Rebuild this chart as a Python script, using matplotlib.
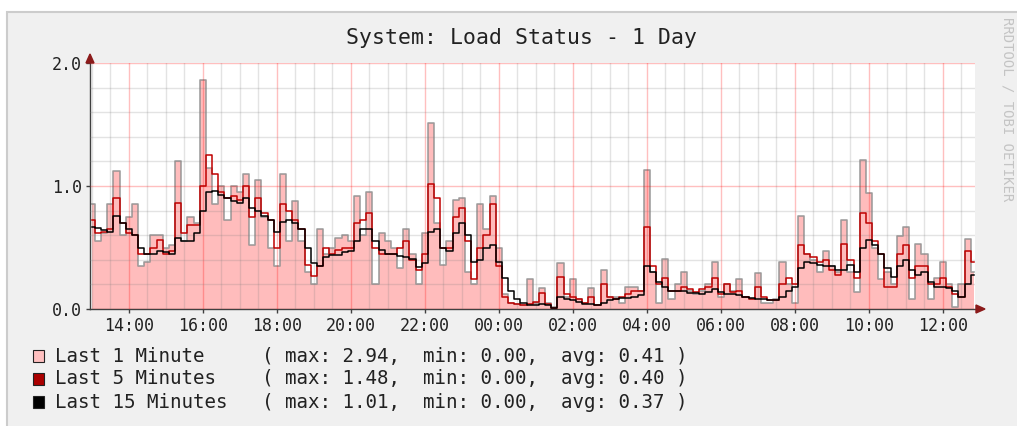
import numpy as np
import pandas as pd
import matplotlib
matplotlib.use("Agg")
import matplotlib.pyplot as plt
import matplotlib.dates as mdates
from matplotlib.patches import Rectangle, Polygon
from matplotlib.ticker import FixedLocator, MultipleLocator

# 10-minute samples, 13:00 .. 12:50 next day
times = pd.date_range("2024-01-01 13:00", periods=144, freq="10min")

load_1min = [
    0.85, 0.55, 0.62, 0.85, 1.12, 0.60, 0.75, 0.85, 0.35, 0.38, 0.60, 0.60,
    0.50, 0.52, 1.20, 0.55, 0.75, 0.70, 1.86, 1.15, 0.85, 1.00, 0.72, 1.00,
    0.95, 1.10, 0.52, 1.05, 0.75, 0.50, 0.35, 1.10, 0.55, 0.88, 0.55, 0.30,
    0.20, 0.65, 0.45, 0.50, 0.58, 0.60, 0.55, 0.92, 0.60, 0.95, 0.20, 0.62,
    0.55, 0.50, 0.33, 0.65, 0.45, 0.20, 0.62, 1.51, 0.70, 0.36, 0.55, 0.89,
    0.90, 0.30, 0.20, 0.85, 0.65, 0.92, 0.50, 0.12, 0.05, 0.04, 0.03, 0.24,
    0.05, 0.17, 0.05, 0.02, 0.37, 0.10, 0.24, 0.08, 0.05, 0.17, 0.03, 0.32,
    0.10, 0.10, 0.05, 0.18, 0.18, 0.15, 1.13, 0.30, 0.05, 0.41, 0.08, 0.20,
    0.30, 0.15, 0.12, 0.15, 0.20, 0.38, 0.10, 0.20, 0.15, 0.24, 0.10, 0.08,
    0.29, 0.05, 0.05, 0.08, 0.38, 0.20, 0.05, 0.76, 0.45, 0.40, 0.30, 0.47,
    0.35, 0.30, 0.72, 0.30, 0.14, 1.21, 0.94, 0.50, 0.24, 0.30, 0.20, 0.59,
    0.67, 0.08, 0.53, 0.45, 0.08, 0.25, 0.38, 0.20, 0.02, 0.20, 0.57, 0.30,
]
load_5min = [
    0.72, 0.62, 0.63, 0.65, 0.90, 0.70, 0.62, 0.60, 0.45, 0.45, 0.50, 0.56,
    0.45, 0.47, 0.86, 0.62, 0.68, 0.68, 1.00, 1.25, 1.10, 0.95, 0.90, 0.92,
    0.89, 1.00, 0.75, 0.90, 0.78, 0.72, 0.50, 0.85, 0.80, 0.72, 0.65, 0.36,
    0.27, 0.35, 0.50, 0.45, 0.48, 0.50, 0.50, 0.70, 0.72, 0.78, 0.50, 0.45,
    0.45, 0.45, 0.50, 0.55, 0.40, 0.32, 0.45, 1.02, 0.90, 0.50, 0.50, 0.75,
    0.82, 0.55, 0.24, 0.50, 0.60, 0.85, 0.35, 0.10, 0.05, 0.04, 0.03, 0.04,
    0.06, 0.13, 0.04, 0.01, 0.26, 0.12, 0.10, 0.08, 0.05, 0.10, 0.03, 0.20,
    0.10, 0.08, 0.10, 0.12, 0.15, 0.15, 0.67, 0.35, 0.20, 0.25, 0.15, 0.15,
    0.18, 0.16, 0.14, 0.16, 0.18, 0.25, 0.12, 0.20, 0.14, 0.15, 0.10, 0.08,
    0.18, 0.10, 0.07, 0.07, 0.20, 0.25, 0.20, 0.52, 0.45, 0.42, 0.38, 0.40,
    0.32, 0.28, 0.53, 0.40, 0.25, 0.78, 0.70, 0.55, 0.45, 0.18, 0.18, 0.45,
    0.52, 0.25, 0.35, 0.35, 0.20, 0.20, 0.25, 0.18, 0.12, 0.10, 0.47, 0.38,
]
load_15min = [
    0.67, 0.66, 0.64, 0.63, 0.76, 0.70, 0.65, 0.60, 0.50, 0.45, 0.45, 0.47,
    0.46, 0.45, 0.58, 0.55, 0.55, 0.62, 0.80, 0.95, 0.96, 0.93, 0.90, 0.88,
    0.86, 0.90, 0.82, 0.80, 0.76, 0.72, 0.63, 0.71, 0.72, 0.70, 0.65, 0.50,
    0.37, 0.35, 0.42, 0.44, 0.44, 0.46, 0.47, 0.55, 0.65, 0.65, 0.55, 0.48,
    0.45, 0.45, 0.43, 0.42, 0.41, 0.34, 0.37, 0.63, 0.65, 0.50, 0.47, 0.62,
    0.70, 0.60, 0.38, 0.40, 0.50, 0.52, 0.38, 0.25, 0.15, 0.08, 0.05, 0.03,
    0.03, 0.04, 0.03, 0.01, 0.10, 0.08, 0.07, 0.06, 0.04, 0.04, 0.03, 0.05,
    0.07, 0.08, 0.09, 0.09, 0.10, 0.11, 0.35, 0.30, 0.22, 0.18, 0.15, 0.15,
    0.15, 0.13, 0.13, 0.12, 0.14, 0.16, 0.14, 0.12, 0.12, 0.11, 0.10, 0.09,
    0.08, 0.08, 0.07, 0.07, 0.10, 0.15, 0.18, 0.33, 0.38, 0.37, 0.36, 0.35,
    0.35, 0.32, 0.32, 0.36, 0.30, 0.50, 0.56, 0.52, 0.45, 0.33, 0.26, 0.35,
    0.40, 0.32, 0.28, 0.30, 0.22, 0.18, 0.18, 0.17, 0.15, 0.10, 0.20, 0.28,
]

legend_names = ["Last 1 Minute", "Last 5 Minutes", "Last 15 Minutes"]
legend_max = ["2.94", "1.48", "1.01"]
legend_min = ["0.00", "0.00", "0.00"]
legend_avg = ["0.41", "0.40", "0.37"]
legend_colors = ["#ffc0c0", "#aa0000", "#000000"]

title = "System: Load Status - 1 Day"
watermark = "RRDTOOL / TOBI OETIKER"

plt.rcParams["font.family"] = ["DejaVu Sans Mono"]

W, H = 1017, 426
fig = plt.figure(figsize=(W / 100, H / 100), dpi=100)
fig.patch.set_facecolor("white")

# grey canvas with a light frame, kept behind the axes
fig.patches.append(Rectangle((7 / W, -0.1), 1.1, (H - 12) / H + 0.1,
                             transform=fig.transFigure, facecolor="#f0f0f0",
                             edgecolor="#cccccc", lw=1.5, zorder=-5))

ax = fig.add_axes([90 / W, (H - 309) / H, 885 / W, 246 / H])
ax.set_zorder(1)
ax.set_facecolor("white")

ax.fill_between(times, load_1min, step="mid", color="#ffbcbc", lw=0, zorder=1)
ax.step(times, load_1min, where="mid", color="#909090", alpha=0.85, lw=1.2, zorder=2)
ax.step(times, load_5min, where="mid", color="#c00000", lw=1.1, zorder=4)
ax.step(times, load_15min, where="mid", color="#000000", lw=1.1, zorder=5)

ax.set_xlim(pd.Timestamp("2024-01-01 12:57"), pd.Timestamp("2024-01-02 12:52"))
ax.set_ylim(0, 2.0)

ax.xaxis.set_major_locator(mdates.HourLocator(byhour=range(0, 24, 2)))
ax.xaxis.set_major_formatter(mdates.DateFormatter("%H:%M"))
ax.xaxis.set_minor_locator(mdates.MinuteLocator(byminute=[0, 30]))
ax.yaxis.set_major_locator(FixedLocator([0.0, 1.0, 2.0]))
ax.yaxis.set_major_formatter(lambda v, p: f"{v:.1f}")
ax.yaxis.set_minor_locator(MultipleLocator(0.2))

ax.set_axisbelow(False)
ax.grid(which="minor", color="#808080", alpha=0.22, lw=1)
ax.grid(which="major", color="#ff0000", alpha=0.25, lw=1)

ax.tick_params(which="major", direction="out", length=3, width=1, color="#404040",
               labelsize=12, labelcolor="#222222", pad=3)
ax.tick_params(which="minor", length=0)

for side in ("top", "right"):
    ax.spines[side].set_visible(False)
for side in ("left", "bottom"):
    ax.spines[side].set_color("#404040")
    ax.spines[side].set_linewidth(1)


def px(x, y):
    return (x / W, 1 - y / H)


fig.patches.append(Polygon([px(90, 54), px(86, 63), px(94, 63)], closed=True,
                           transform=fig.transFigure, color="#8b1a1a", zorder=10))
fig.patches.append(Polygon([px(985, 309), px(976, 305), px(976, 313)], closed=True,
                           transform=fig.transFigure, color="#8b1a1a", zorder=10))

fig.text(521 / W, 1 - 38 / H, title, ha="center", va="center",
         fontsize=15.5, color="#222222")
fig.text(1008 / W, 1 - 109 / H, watermark, rotation=270, ha="center", va="center",
         fontsize=10, color="#c4c4c4")

row_y = [356, 379, 402]
for name, mx, mn, av, col, y in zip(legend_names, legend_max, legend_min,
                                     legend_avg, legend_colors, row_y):
    fig.patches.append(Rectangle(px(33, y + 6), 11 / W, 12 / H,
                                 transform=fig.transFigure, facecolor=col,
                                 edgecolor="#222222", lw=0.8))
    fig.text(55 / W, 1 - y / H, f"{name:<18}( max: {mx},  min: {mn},  avg: {av} )",
             ha="left", va="center", fontsize=13.8, color="#222222")

fig.savefig("out.png", dpi=100, facecolor=fig.get_facecolor())
